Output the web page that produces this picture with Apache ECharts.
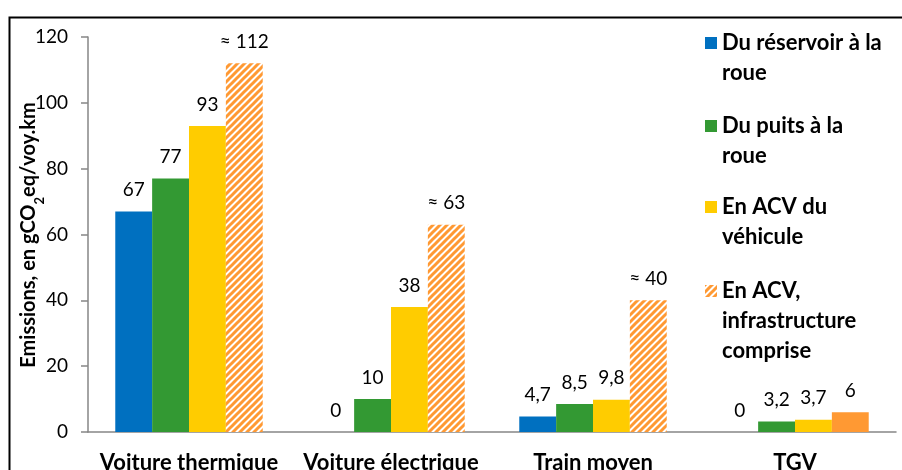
<!DOCTYPE html>
<html><head><meta charset="utf-8">
<script src="https://cdn.jsdelivr.net/npm/echarts@6/dist/echarts.min.js"></script>
<style>html,body{margin:0;padding:0;background:#fff}#c{width:902px;height:470px}</style>
</head><body><div id="c"></div>
<script>
// ---- data ----
const categories = ['Voiture thermique', 'Voiture électrique', 'Train moyen', 'TGV'];
const seriesNames = ['Du réservoir à la roue', 'Du puits à la roue', 'En ACV du véhicule', 'En ACV, infrastructure comprise'];
const legendLines = [['Du réservoir à la', 'roue'], ['Du puits à la', 'roue'], ['En ACV du', 'véhicule'], ['En ACV,', 'infrastructure', 'comprise']];
const reservoirRoue = [67, 0, 4.7, 0];
const puitsRoue = [77, 10, 8.5, 3.2];
const acvVehicule = [93, 38, 9.8, 3.7];
const acvInfra = [112, 63, 40, 6];
const acvInfraApprox = [true, true, true, false];
const yMin = 0, yMax = 120, yInterval = 20;
const yTitle = '{a|Emissions, en gCO}{s|2}{a|eq/voy.km}';

// ---- styles ----
const FONT = 'Lato, "Open Sans", sans-serif';
const colors = ['#0070C0', '#339933', '#FFCC00', '#FF9933'];

function hatch() {
  const s = 7, c = document.createElement('canvas');
  c.width = s; c.height = s;
  const g = c.getContext('2d');
  g.fillStyle = '#fff'; g.fillRect(0, 0, s, s);
  g.strokeStyle = '#FF9933'; g.lineWidth = 3;
  g.beginPath();
  g.moveTo(-2, 2); g.lineTo(2, -2);
  g.moveTo(-2, s + 2); g.lineTo(s + 2, -2);
  g.moveTo(s - 2, s + 2); g.lineTo(s + 2, s - 2);
  g.stroke();
  return c;
}
const hatchPattern = { image: hatch(), repeat: 'repeat' };

const fmt = v => String(v).replace('.', ',');
const valuesList = [reservoirRoue, puitsRoue, acvVehicule, acvInfra];

const series = valuesList.map((vals, si) => ({
  name: seriesNames[si],
  type: 'bar',
  barGap: '0%',
  barCategoryGap: '27%',
  itemStyle: { color: si === 3 ? hatchPattern : colors[si] },
  data: vals.map((v, i) => (si === 3 && !acvInfraApprox[i]) ? { value: v, itemStyle: { color: colors[3] } } : v),
  label: {
    show: true, position: 'top', distance: 12,
    fontSize: 19, fontFamily: FONT, color: '#000',
    formatter: p => (si === 3 && acvInfraApprox[p.dataIndex] ? '≈ ' : '') + fmt(p.value)
  }
}));

const iconCenters = [43, 126, 207, 291];
const LH = 30;
const legends = legendLines.map((lines, i) => {
  const n = lines.length;
  // blank lines above so the first text line sits level with the icon
  const padded = new Array(n - 1).fill('').concat(lines);
  return {
    orient: 'vertical', left: 705, top: iconCenters[i] - (2 * n - 1) * LH / 2,
    padding: 0, itemWidth: 12, itemHeight: 12, icon: 'rect',
    selectedMode: false,
    data: [seriesNames[i]],
    formatter: () => padded.join('\n'),
    textStyle: { fontSize: 22, fontWeight: 'bold', fontFamily: FONT, color: '#000', lineHeight: LH }
  };
});

const chart = echarts.init(document.getElementById('c'), null, { renderer: 'canvas' });
chart.setOption({
  animation: false,
  backgroundColor: '#fff',
  grid: { left: 88, right: 6, top: 37, bottom: 38, containLabel: false, outerBoundsMode: 'none' },
  legend: legends,
  xAxis: {
    type: 'category', data: categories,
    axisLine: { lineStyle: { color: '#868686', width: 1.5 } },
    axisTick: { length: 7, lineStyle: { color: '#868686', width: 1.5 } },
    axisLabel: { fontSize: 22, fontWeight: 'bold', fontFamily: FONT, color: '#000', margin: 20, interval: 0 }
  },
  yAxis: {
    type: 'value', min: yMin, max: yMax, interval: yInterval,
    axisLine: { show: true, lineStyle: { color: '#868686', width: 1.5 } },
    axisTick: { show: true, length: 7, lineStyle: { color: '#868686', width: 1.5 } },
    splitLine: { show: false },
    axisLabel: { fontSize: 19, fontFamily: FONT, color: '#000', margin: 20 }
  },
  graphic: [{
    type: 'polyline', silent: true,
    shape: { points: [[9.5, 475], [9.5, 17.5], [905, 17.5]] },
    style: { stroke: '#000', lineWidth: 2, fill: null }
  }, {
    type: 'text', silent: true,
    x: 29, y: 235, rotation: Math.PI / 2,
    style: {
      text: yTitle, align: 'center', verticalAlign: 'middle',
      rich: {
        a: { fontSize: 20, fontWeight: 'bold', fontFamily: FONT, fill: '#000', lineHeight: 24 },
        s: { fontSize: 13, fontWeight: 'bold', fontFamily: FONT, fill: '#000', lineHeight: 24, verticalAlign: 'bottom', padding: [0, 0, -5, 0] }
      }
    }
  }],
  series: series
});
</script>
</body></html>
